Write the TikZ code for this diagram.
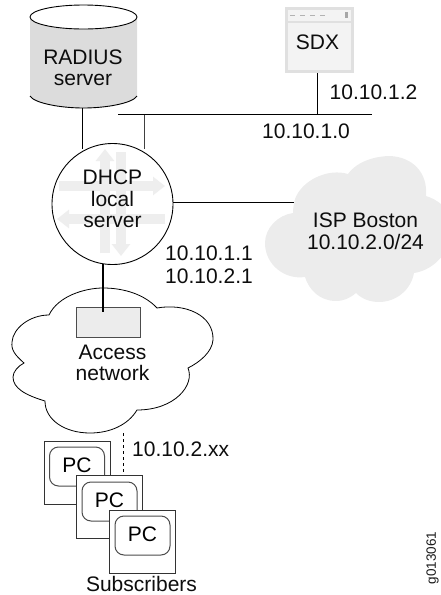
\documentclass[tikz,border=0pt]{standalone}
\usepackage{fontspec}
\setmainfont{Liberation Sans}
\usetikzlibrary{arrows.meta}
\definecolor{softgray}{HTML}{ECECEC}
\definecolor{cylgray}{HTML}{DCDCDC}
\definecolor{arrowgray}{HTML}{EEEEEE}
\definecolor{boxedge}{HTML}{E0E0E0}
\definecolor{boxfill}{HTML}{F3F3F3}
\tikzset{
  wire/.style={draw=black,line width=0.9pt},
  lbl/.style={font=\fontsize{21}{21.5}\selectfont,inner sep=0pt,align=center,text=black!95},
  pcouter/.style={draw=black!80,fill=white,line width=0.9pt,minimum width=66pt,minimum height=63pt,inner sep=0pt},
  pcinner/.style={draw=black!70,fill=white,line width=1pt,rounded corners=9pt,minimum width=55pt,minimum height=39pt,inner sep=0pt,font=\fontsize{21}{21.5}\selectfont},
  flowarrow/.style={line width=10pt,draw=arrowgray,-{Triangle[width=18pt,length=12pt]}},
}
\begin{document}
\begin{tikzpicture}[x=1pt,y=-1pt]
\useasboundingbox (0,0) rectangle (441,595);
\clip (0,0) rectangle (441,595);
\coordinate (busL) at (118,114.5);
\coordinate (busR) at (372,114.5);
\draw[wire] (busL) -- (busR);
\coordinate (dhcpc) at (112.5,204);
% cylinder
\path[fill=cylgray] (30,17) -- (30,96) .. controls (34,103) and (60,108) .. (83.5,108) .. controls (107,108) and (133,103) .. (137,96) -- (137,17) -- cycle;
\draw[wire] (30,96) .. controls (34,103) and (60,108) .. (83.5,108) .. controls (107,108) and (133,103) .. (137,96);
\draw[wire,fill=white] (83.5,17) ellipse [x radius=53.5pt,y radius=12pt];
\node[lbl] (radius) at (83,68) {RADIUS\\server};
\coordinate (radT) at (82,108);
\coordinate (radB) at (82,149);
\coordinate (busT) at (144,114.5);
\coordinate (busB) at (144,149);
\draw[wire] (radT) -- (radB);
\draw[wire,black!75] (busT) -- (busB);
% DHCP
\draw[wire,fill=white] (dhcpc) circle [radius=60.5pt];
\coordinate (u1) at (105,253); \coordinate (u2) at (105,149);
\coordinate (d1) at (121,152); \coordinate (d2) at (121,256);
\coordinate (r1) at (59,186); \coordinate (r2) at (165,186);
\coordinate (l1) at (165,219); \coordinate (l2) at (57,219);
\draw[flowarrow] (u1) -- (u2);
\draw[flowarrow] (d1) -- (d2);
\draw[flowarrow] (r1) -- (r2);
\draw[flowarrow] (l1) -- (l2);
\node[lbl] (dhcpt) at (112.5,199) {DHCP\\local\\server};
% SDX
\node[draw=boxedge,fill=boxfill,line width=3pt,minimum width=66pt,minimum height=63pt,inner sep=0pt] (sdx) at (319.5,40) {};
\draw[boxedge,line width=1.5pt] (286.5,22) -- (352.5,22);
\draw[black!30,line width=1pt,dash pattern=on 5pt off 5pt] (290,15) -- (329,15);
\draw[black!35,line width=3pt] (346,12) -- (346,18);
\node[lbl] (sdxt) at (317.5,42.5) {SDX};
\coordinate (sdxB) at (317,73);
\coordinate (sdxBus) at (317,114.5);
\draw[wire] (sdxB) -- (sdxBus);
% ISP cloud
\path[fill=softgray] (295,199) .. controls (302,180) and (328,168) .. (348,174)
 .. controls (358,160) and (378,156) .. (390,156) .. controls (412,157) and (428,172) .. (426,196)
 .. controls (436,199) and (452,208) .. (452,228) .. controls (452,250) and (435,270) .. (414,273)
 .. controls (411,290) and (396,302) .. (379,302) .. controls (370,302) and (362,299) .. (356,293)
 .. controls (350,298) and (344,301) .. (336,301) .. controls (320,301) and (309,290) .. (305,277)
 .. controls (285,280) and (265,265) .. (265,243) .. controls (265,228) and (278,215) .. (293,213)
 .. controls (293,208) and (294,203) .. (295,199) -- cycle;
\node[lbl] (isp) at (365.5,231.5) {ISP Boston\\10.10.2.0/24};
\coordinate (ispL) at (294,202);
\coordinate (dhcpR) at (173,202);
\draw[wire] (dhcpR) -- (ispL);
% Access cloud
\draw[wire,fill=white,line width=0.8pt] (49,315) .. controls (58,296) and (85,288) .. (103,288) .. controls (125,288) and (145,295) .. (157,308)
 .. controls (185,303) and (214,315) .. (213,340) .. controls (212,352) and (200,362) .. (188,368)
 .. controls (195,385) and (175,410) .. (137,410)
 .. controls (128,425) and (110,433) .. (90,433) .. controls (65,433) and (45,420) .. (45,401)
 .. controls (25,395) and (13,388) .. (13,377) .. controls (13,372) and (18,366) .. (24,363)
 .. controls (15,355) and (11,350) .. (12,342) .. controls (13,328) and (30,315) .. (49,315) -- cycle;
\node[draw=black!70,fill=softgray,line width=0.8pt,minimum width=64pt,minimum height=30pt,inner sep=0pt] (port) at (108,322) {};
\coordinate (dhcpB) at (103,264);
\coordinate (portT) at (103,312);
\draw[black,line width=2pt] (dhcpB) -- (portT);
\node[lbl] (access) at (112.5,363) {Access\\network};
% Labels
\node[lbl,anchor=west] (a1) at (329.5,92.5) {10.10.1.2};
\node[lbl,anchor=west] (a2) at (262,131) {10.10.1.0};
\node[lbl,anchor=west] (a3) at (165,253) {10.10.1.1};
\node[lbl,anchor=west] (a4) at (165,276) {10.10.2.1};
\node[lbl,anchor=west] (a5) at (132,449.5) {10.10.2.xx};
% PCs
\coordinate (dashT) at (123.3,433);
\coordinate (dashB) at (123.3,475);
\draw[black,line width=0.9pt,dash pattern=on 3pt off 3pt] (dashT) -- (dashB);
\node[pcouter] (pc1box) at (77,472.5) {};
\node[pcinner] (pc1) at (77,466.5) {\raisebox{2pt}{PC}};
\node[pcouter] (pc2box) at (109,506.5) {};
\node[pcinner] (pc2) at (109.5,501.5) {\raisebox{2pt}{PC}};
\node[pcouter] (pc3box) at (142,541.5) {};
\node[pcinner] (pc3) at (142.5,535.5) {\raisebox{2pt}{PC}};
\node[lbl] (subs) at (141.5,584) {Subscribers};
\node[font=\fontsize{13.5}{16}\selectfont,rotate=90,inner sep=0pt,text=black!90] (fig) at (432.5,558) {g013061};
\end{tikzpicture}
\end{document}
